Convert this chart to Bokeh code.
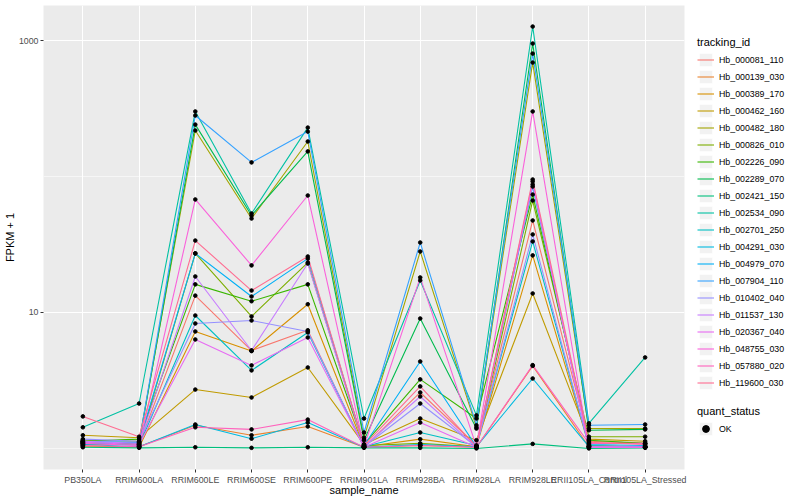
from bokeh.plotting import figure
from bokeh.layouts import row
from bokeh.models import FactorRange, Range1d, FixedTicker, Legend, LegendItem, BasicTickFormatter
from bokeh.embed import file_html
from bokeh.resources import INLINE

samples = ["PB350LA", "RRIM600LA", "RRIM600LE", "RRIM600SE", "RRIM600PE", "RRIM901LA",
           "RRIM928BA", "RRIM928LA", "RRIM928LE", "RRII105LA_Control", "RRII105LA_Stressed"]

tracking_ids = ["Hb_000081_110", "Hb_000139_030", "Hb_000389_170", "Hb_000462_160", "Hb_000482_180",
                "Hb_000826_010", "Hb_002226_090", "Hb_002289_070", "Hb_002421_150", "Hb_002534_090",
                "Hb_002701_250", "Hb_004291_030", "Hb_004979_070", "Hb_007904_110", "Hb_010402_040",
                "Hb_011537_130", "Hb_020367_040", "Hb_048755_030", "Hb_057880_020", "Hb_119600_030"]

# FPKM + 1 per sample (order of `samples`)
hb_000081_110 = [1.11, 1.07, 13.3, 5.25, 7.4, 1.02, 2.58, 1.05, 47.5, 1.13, 1.09]
hb_000139_030 = [1.03, 1.03, 1.48, 1.25, 1.45, 1.02, 1.05, 1.02, 4.05, 1.03, 1.03]
hb_000389_170 = [1.05, 1.02, 7.25, 5.2, 11.5, 1.03, 1.17, 1.03, 26.3, 1.05, 1.03]
hb_000462_160 = [1.25, 1.2, 2.71, 2.37, 3.94, 1.07, 1.66, 1.15, 13.8, 1.17, 1.13]
hb_000482_180 = [1.15, 1.13, 218, 49.1, 181, 1.2, 28.1, 1.43, 689, 1.4, 1.4]
hb_000826_010 = [1.09, 1.07, 27.2, 9.35, 23.3, 1.05, 1.09, 1.03, 66.6, 1.22, 1.22]
hb_002226_090 = [1.13, 1.17, 16.1, 12.1, 16.1, 1.07, 3.22, 1.66, 73.7, 1.15, 1.09]
hb_002289_070 = [1.07, 1.09, 241, 51.7, 153, 1.15, 9.03, 1.4, 951, 1.36, 1.38]
hb_002421_150 = [1.02, 1.01, 1.02, 1.01, 1.02, 1.01, 1.01, 1.0, 1.08, 1.0, 1.01]
hb_002534_090 = [1.43, 2.14, 301, 53.5, 229, 1.66, 17.2, 1.75, 1268, 1.53, 4.67]
hb_002701_250 = [1.11, 1.05, 9.5, 3.75, 7.13, 1.03, 1.31, 1.05, 33.3, 1.05, 1.02]
hb_004291_030 = [1.07, 1.03, 1.5, 1.18, 1.55, 1.02, 1.07, 1.03, 3.27, 1.03, 1.02]
hb_004979_070 = [1.09, 1.11, 27.2, 13.1, 24.9, 1.05, 4.36, 1.03, 84.4, 1.07, 1.05]
hb_007904_110 = [1.13, 1.11, 281, 127, 214, 1.31, 32.7, 1.48, 802, 1.48, 1.5]
hb_010402_040 = [1.17, 1.13, 8.3, 8.73, 7.25, 1.03, 2.14, 1.03, 37.5, 1.03, 1.03]
hb_011537_130 = [1.13, 1.09, 18.4, 5.25, 22.9, 1.03, 2.41, 1.02, 91.9, 1.02, 1.02]
hb_020367_040 = [1.11, 1.07, 6.33, 4.08, 6.55, 1.02, 1.55, 1.02, 87.4, 1.03, 1.02]
hb_048755_030 = [1.09, 1.05, 67.8, 22.2, 72.5, 1.03, 18.1, 1.03, 301, 1.02, 1.02]
hb_057880_020 = [1.05, 1.03, 1.43, 1.38, 1.63, 1.02, 1.05, 1.02, 4.1, 1.09, 1.09]
hb_119600_030 = [1.72, 1.22, 33.8, 14.5, 25.8, 1.05, 2.86, 1.03, 95.1, 1.11, 1.07]

series = [hb_000081_110, hb_000139_030, hb_000389_170, hb_000462_160, hb_000482_180,
          hb_000826_010, hb_002226_090, hb_002289_070, hb_002421_150, hb_002534_090,
          hb_002701_250, hb_004291_030, hb_004979_070, hb_007904_110, hb_010402_040,
          hb_011537_130, hb_020367_040, hb_048755_030, hb_057880_020, hb_119600_030]

quant_status = ["OK"]

colors = ["#F8766D", "#EA8331", "#D89000", "#C09B00", "#A3A500", "#7CAE00", "#39B600", "#00BB4E",
          "#00BF7D", "#00C1A3", "#00BFC4", "#00BAE0", "#00B0F6", "#35A2FF", "#9590FF", "#C77CFF",
          "#E76BF3", "#FA62DB", "#FF62BC", "#FF6C91"]

FONT = "Liberation Sans"
H = 498

p = figure(width=692, height=H,
           x_range=FactorRange(factors=samples, range_padding=0.2, range_padding_units="absolute"),
           y_axis_type="log", y_range=Range1d(0.70, 1811),
           output_backend="svg", toolbar_location=None,
           min_border_left=30, min_border_right=8, min_border_top=5, min_border_bottom=0)
p.background_fill_color = "#EBEBEB"
p.border_fill_color = "white"
p.outline_line_color = None

p.xgrid.grid_line_color = "white"
p.xgrid.grid_line_width = 1.1
p.ygrid.grid_line_color = "white"
p.ygrid.grid_line_width = 1.1
p.ygrid.minor_grid_line_color = "white"
p.ygrid.minor_grid_line_width = 0.55

p.yaxis.ticker = FixedTicker(ticks=[10, 1000], minor_ticks=[1, 100])
p.yaxis.formatter = BasicTickFormatter()

for ax in (p.xaxis, p.yaxis):
    ax.axis_line_color = None
    ax.major_tick_line_color = "#333333"
    ax.major_tick_out = 3
    ax.major_tick_in = 0
    ax.minor_tick_line_color = None
    ax.major_label_text_font = FONT
    ax.major_label_text_font_size = "8.8px"
    ax.major_label_text_color = "#4D4D4D"
    ax.major_label_standoff = 1
    ax.axis_label_text_font = FONT
    ax.axis_label_text_font_size = "11px"
    ax.axis_label_text_font_style = "normal"
    ax.axis_label_text_color = "black"
    ax.axis_label_standoff = 0

p.xaxis.major_label_standoff = 2
p.xaxis.axis_label_standoff = -4

p.xaxis.axis_label = "sample_name"
p.yaxis.axis_label = "FPKM + 1"

for vals, col in zip(series, colors):
    p.line(x=samples, y=vals, line_color=col, line_width=1.1)

all_x = [s for vals in series for s in samples]
all_y = [v for vals in series for v in vals]
p.scatter(x=all_x, y=all_y, size=3.6, color="black")

# legend panel (glyphs drawn off-range so only their legend swatches show)
lg = figure(width=104, height=H, output_backend="svg", toolbar_location=None,
            x_range=Range1d(0, 1), y_range=Range1d(0, 1),
            x_axis_location=None, y_axis_location=None,
            min_border_left=0, min_border_right=0, min_border_top=0, min_border_bottom=0)
lg.grid.visible = False
lg.outline_line_color = None
lg.background_fill_color = "white"
lg.border_fill_color = "white"

items = []
for tid, col in zip(tracking_ids, colors):
    bg = lg.quad(left=[5], right=[6], top=[6], bottom=[5], fill_color="#F2F2F2", line_color="white", line_width=1)
    ln = lg.line(x=[5, 6], y=[5, 5], line_color=col, line_width=1.1)
    items.append(LegendItem(label=tid, renderers=[bg, ln]))

bg2 = lg.quad(left=[5], right=[6], top=[6], bottom=[5], fill_color="#F2F2F2", line_color="white", line_width=1)
pt2 = lg.scatter(x=[5], y=[5], size=3.6, color="black")
items2 = [LegendItem(label=quant_status[0], renderers=[bg2, pt2])]

def style(leg):
    leg.title_text_font = FONT
    leg.title_text_font_size = "11px"
    leg.title_text_font_style = "normal"
    leg.title_text_color = "black"
    leg.label_text_font = FONT
    leg.label_text_font_size = "8.8px"
    leg.label_text_color = "black"
    leg.glyph_width = 17
    leg.glyph_height = 17
    leg.label_height = 17
    leg.spacing = 0
    leg.padding = 0
    leg.margin = 0
    leg.label_standoff = 5
    leg.title_standoff = 3
    leg.border_line_color = None
    leg.background_fill_alpha = 0

leg1 = Legend(items=items, title="tracking_id", location=(5, 78))
style(leg1)
leg2 = Legend(items=items2, title="quant_status", location=(5, 32))
style(leg2)
lg.add_layout(leg1, "center")
lg.add_layout(leg2, "center")

layout = row(p, lg)
open("out.html", "w").write(file_html(layout, INLINE))
